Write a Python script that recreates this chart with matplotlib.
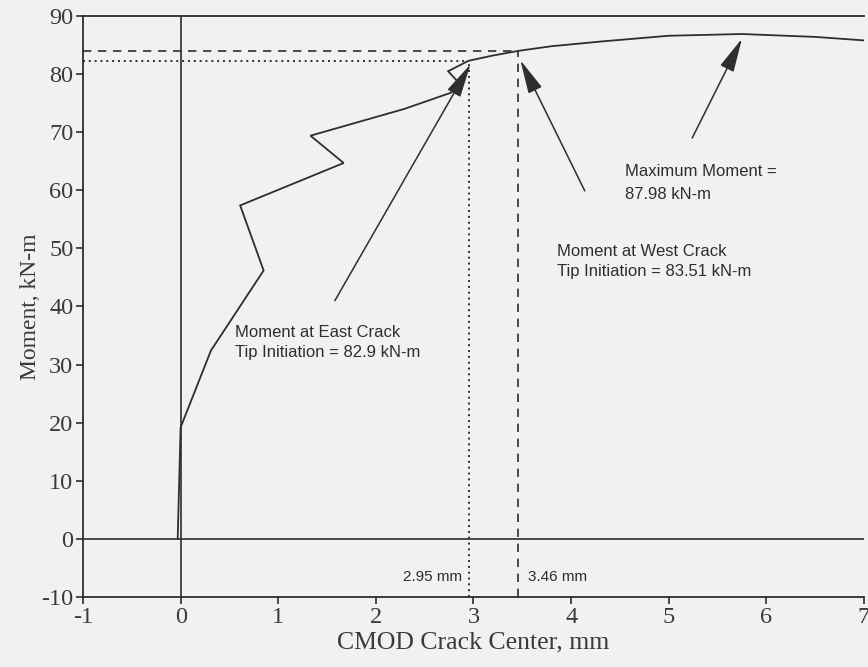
import matplotlib
matplotlib.use("Agg")
import matplotlib.pyplot as plt

# ---- data ----
cmod = [-0.03, 0.0, 0.31, 0.85, 0.61, 1.67, 1.33, 2.29, 2.77, 2.85, 2.74, 2.95,
        3.20, 3.46, 3.80, 4.30, 5.00, 5.75, 6.50, 7.00]
moment = [0.0, 19.2, 32.4, 46.2, 57.4, 64.7, 69.4, 74.0, 76.8, 78.5, 80.5, 82.3,
          83.2, 84.0, 84.8, 85.6, 86.6, 86.9, 86.4, 85.8]

east_x, east_m = 2.95, 82.3
west_x, west_m = 3.46, 84.0
max_x, max_m = 5.75, 86.9

east_label = "Moment at East Crack\nTip Initiation = 82.9 kN-m"
west_label = "Moment at West Crack\nTip Initiation = 83.51 kN-m"
max_label = "Maximum Moment =\n87.98 kN-m"
east_mm = "2.95 mm"
west_mm = "3.46 mm"

xticks = [-1, 0, 1, 2, 3, 4, 5, 6, 7]
yticks = [-10, 0, 10, 20, 30, 40, 50, 60, 70, 80, 90]

# ---- figure ----
bg = "#f1f1f1"
ink = "#2e2e2e"
txt = "#3a3a3a"
serif = ["Liberation Serif", "DejaVu Serif"]
sans = ["Liberation Sans", "DejaVu Sans"]

fig = plt.figure(figsize=(8.68, 6.67), dpi=100, facecolor=bg)
ax = fig.add_axes([83 / 868, 1 - 597 / 667, (864 - 83) / 868, (597 - 16) / 667])
ax.set_facecolor(bg)
ax.set_xlim(-1, 7)
ax.set_ylim(-10, 90)

for s in ["left", "bottom", "top"]:
    ax.spines[s].set_color(ink)
    ax.spines[s].set_linewidth(1.3)
ax.spines["right"].set_visible(False)

ax.set_xticks(xticks)
ax.set_yticks(yticks)
ax.set_xticklabels([str(t) for t in xticks], family=serif, fontsize=17.5, color=txt)
ax.set_yticklabels([str(t) for t in yticks], family=serif, fontsize=17.5, color=txt)
ax.tick_params(axis="both", direction="out", length=5, width=1.2, color=ink, pad=2)

ax.set_xlabel("CMOD Crack Center, mm", family=serif, fontsize=18.5, color=txt, labelpad=3)
ax.set_ylabel("Moment, kN-m", family=serif, fontsize=17, color=txt, labelpad=0)

# reference lines
ax.axhline(0, color=ink, lw=1.2)
ax.axvline(0, color=ink, lw=1.2)

# curve
ax.plot(cmod, moment, color=ink, lw=1.3, solid_joinstyle="miter")

# dotted / dashed guide lines
ax.plot([-1, east_x], [east_m, east_m], color=ink, lw=1.4, ls=(0, (1, 2)))
ax.plot([east_x, east_x], [-10, east_m], color=ink, lw=1.4, ls=(0, (1, 2)))
ax.plot([-1, west_x], [west_m, west_m], color=ink, lw=1.2, ls=(0, (5, 4)))
ax.plot([west_x, west_x], [-10, west_m], color=ink, lw=1.2, ls=(0, (5, 4)))

# arrows + labels
ap = dict(arrowstyle="-|>,head_length=1.5,head_width=0.33", mutation_scale=14,
          color=ink, lw=1.1, shrinkA=0, shrinkB=0)
ax.annotate("", xy=(east_x + 0.02, east_m - 0.6), xytext=(1.58, 41.0), arrowprops=ap)
ax.annotate("", xy=(west_x + 0.02, west_m - 1.6), xytext=(4.14, 59.9), arrowprops=ap)
ax.annotate("", xy=(max_x, max_m - 0.8), xytext=(5.24, 69.0), arrowprops=ap)

ax.text(0.56, 33.8, east_label, family=sans, fontsize=12, color=ink,
        ha="left", va="center", linespacing=1.43)
ax.text(3.86, 47.7, west_label, family=sans, fontsize=12, color=ink,
        ha="left", va="center", linespacing=1.43)
ax.text(4.55, 61.3, max_label, family=sans, fontsize=12, color=ink,
        ha="left", va="center", linespacing=1.65)

ax.text(2.88, -6.6, east_mm, family=sans, fontsize=11, color=ink,
        ha="right", va="center")
ax.text(3.56, -6.6, west_mm, family=sans, fontsize=11, color=ink,
        ha="left", va="center")

fig.savefig("out.png", dpi=100, facecolor=bg)
